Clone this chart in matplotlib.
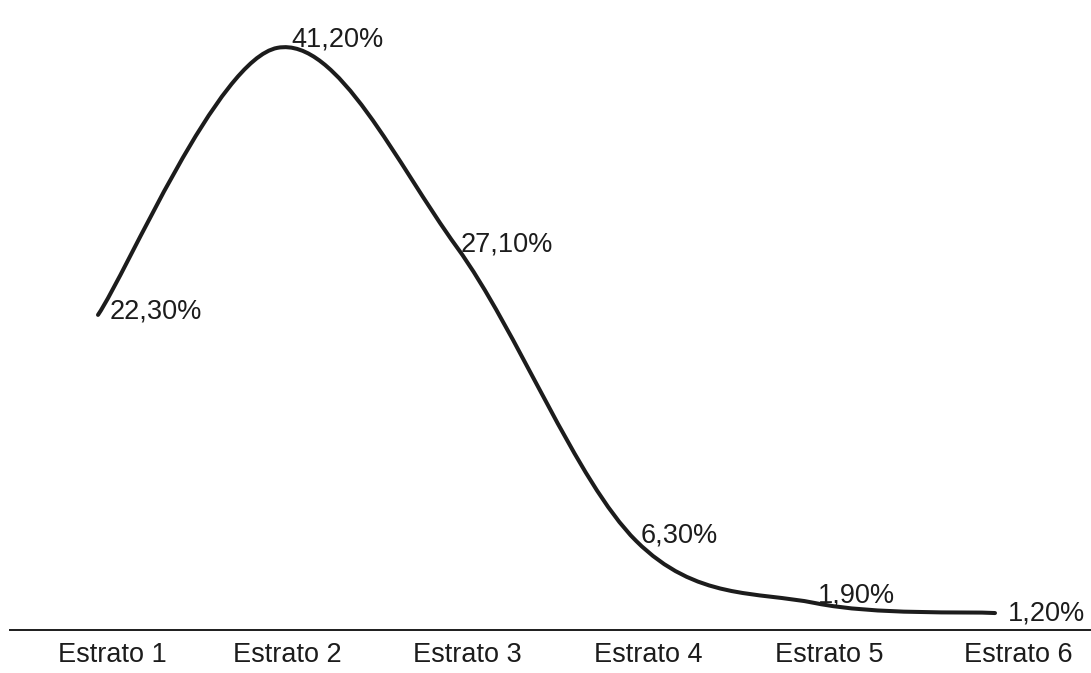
import numpy as np
import matplotlib
matplotlib.use("Agg")
import matplotlib.pyplot as plt
from matplotlib.path import Path
from matplotlib.patches import PathPatch
from matplotlib.transforms import ScaledTranslation

# Share of households per stratum
categories = ["Estrato 1", "Estrato 2", "Estrato 3", "Estrato 4", "Estrato 5", "Estrato 6"]
shares = [22.3, 41.2, 27.1, 6.3, 1.9, 1.2]
value_labels = ["22,30%", "41,20%", "27,10%", "6,30%", "1,90%", "1,20%"]

# Label nudges in pixels (dx, dy) relative to each point
label_nudges = [(12, 3), (14, 8), (4, 3), (4, 5), (2, 8), (13, 0)]
# Horizontal nudges of category names in pixels
tick_nudges = [14, 10, 11, 12, 14, 23]

plt.rcParams["font.family"] = ["Liberation Sans", "DejaVu Sans"]
INK = "#1c1c1c"
FS = 19.5

W, H, DPI = 1091, 673, 100
fig = plt.figure(figsize=(W / DPI, H / DPI), dpi=DPI)
fig.patch.set_facecolor("white")

px_per_cat = 179.4
px_per_unit = 14.13
base_px = 633  # pixel row of the baseline
ax = fig.add_axes([0, (H - base_px) / H, 1, base_px / H])
ax.set_xlim(-98 / px_per_cat, -98 / px_per_cat + W / px_per_cat)
ax.set_ylim(-3 / px_per_unit, -3 / px_per_unit + base_px / px_per_unit)
ax.set_facecolor("none")

# Smooth curve through the points (Catmull-Rom converted to cubic Bezier)
x = np.arange(len(shares), dtype=float)
y = np.asarray(shares, dtype=float)
pts = np.column_stack([x, y])
verts = [tuple(pts[0])]
codes = [Path.MOVETO]
n = len(pts)
for i in range(n - 1):
    p0 = pts[i - 1] if i > 0 else pts[i]
    p1 = pts[i]
    p2 = pts[i + 1]
    p3 = pts[i + 2] if i + 2 < n else pts[i + 1]
    c1 = p1 + (p2 - p0) / 6.0
    c2 = p2 - (p3 - p1) / 6.0
    verts += [tuple(c1), tuple(c2), tuple(p2)]
    codes += [Path.CURVE4] * 3
curve = PathPatch(Path(verts, codes), facecolor="none", edgecolor=INK,
                  linewidth=2.9, capstyle="round", joinstyle="round")
ax.add_patch(curve)

# Value labels to the right of each point
for xi, yi, txt, (dx, dy) in zip(x, y, value_labels, label_nudges):
    ax.annotate(txt, (xi, yi), xytext=(dx * 0.72, dy * 0.72),
                textcoords="offset points", ha="left", va="center",
                fontsize=FS, color=INK)

# Axes styling: only the baseline
for s in ["top", "left", "right"]:
    ax.spines[s].set_visible(False)
ax.spines["bottom"].set_position(("data", 0))
ax.spines["bottom"].set_color(INK)
ax.spines["bottom"].set_linewidth(1.4)
ax.spines["bottom"].set_bounds(-88 / px_per_cat, ax.get_xlim()[1])
ax.set_yticks([])
ax.set_xticks(x)
ax.set_xticklabels(categories, fontsize=FS, color=INK)
ax.tick_params(axis="x", length=0, pad=9)
for lab, dx in zip(ax.get_xticklabels(), tick_nudges):
    lab.set_transform(lab.get_transform() + ScaledTranslation(dx / DPI, 0, fig.dpi_scale_trans))

fig.savefig("out.png", dpi=DPI, facecolor="white")
